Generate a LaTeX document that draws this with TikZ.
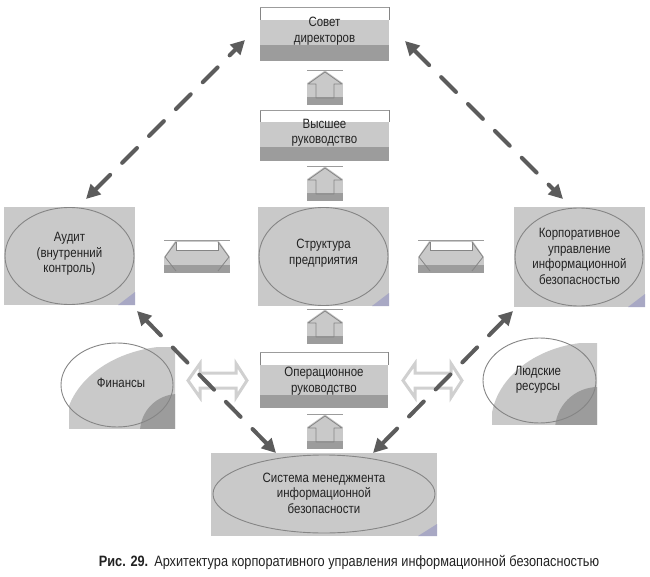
\documentclass[tikz,border=0pt]{standalone}
\usepackage{fontspec}
\setmainfont[FakeStretch=0.85]{Liberation Sans}
\usetikzlibrary{arrows.meta}
\definecolor{lg}{HTML}{C9C9C9}
\definecolor{dg}{HTML}{9C9C9C}
\definecolor{eg}{HTML}{858585}
\definecolor{ag}{HTML}{5C5C5C}
\definecolor{tx}{HTML}{222222}
\definecolor{og}{HTML}{D0D0D0}
\definecolor{pp}{HTML}{A8A8C4}
\tikzset{
  lbl/.style={text=tx, align=center, font=\fontsize{13.5}{15.5}\selectfont, inner sep=0pt},
  ell/.style={draw=eg, line width=0.9pt},
  dasharrow/.style={draw=ag, line width=4pt, line cap=round, dash pattern=on 21pt off 17pt,
     {Triangle[length=14pt,width=14pt]}-{Triangle[length=14pt,width=14pt]}},
  outarrow/.style={draw=og, line width=3pt, fill=white, line join=miter},
  pics/uparr/.style={code={
    \fill[lg] (0,1) rectangle (36,35);
    \fill[dg] (0,27) rectangle (36,35);
    \fill[white] (0,1) -- (17,1) -- (0,13) -- cycle;
    \fill[white] (19,1) -- (36,1) -- (36,13) -- cycle;
    \draw[eg, line width=0.8pt, line join=round] (18,2) -- (1,14) -- (9,14) -- (9,28) -- (27,28) -- (27,14) -- (35,14) -- cycle;
    \draw[dg, line width=1.5pt] (0,0.5) -- (36,0.5);
  }},
  pics/harr/.style={code={
    \fill[lg] (0,1) rectangle (66,33);
    \fill[dg] (0,25) rectangle (66,33);
    \fill[white] (0,1) -- (11,1) -- (0,17) -- cycle;
    \fill[white] (55,1) -- (66,1) -- (66,17) -- cycle;
    \fill[white] (12,2) rectangle (54,10);
    \draw[eg, line width=0.8pt, line join=round] (12,2) -- (1,17) -- (12,31);
    \draw[eg, line width=0.8pt, line join=round] (54,2) -- (65,17) -- (54,31);
    \draw[eg, line width=0.8pt] (12,2) -- (12,10) -- (54,10) -- (54,2);
    \draw[dg, line width=1.5pt] (0,0.5) -- (66,0.5);
  }},
}
\begin{document}
\begin{tikzpicture}[x=1pt,y=-1pt]
\useasboundingbox (0,0) rectangle (650,577);

% ---------- layered boxes ----------
% Совет директоров
\fill[white] (260,7) rectangle (389,20);
\fill[lg] (260,20) rectangle (389,45);
\fill[dg] (260,45) rectangle (389,61);
\draw[eg, line width=0.6pt] (260,20) -- (260,7.5) -- (389,7.5) -- (389,20);
\draw[dg, line width=1.5pt] (260,7.5) -- (389,7.5);
\node[lbl] (sovet) at (324.5,31) {Совет\\директоров};

% Высшее руководство
\fill[white] (260,110) rectangle (389,122);
\fill[lg] (260,122) rectangle (389,147);
\fill[dg] (260,147) rectangle (389,161);
\draw[eg, line width=0.6pt] (260,122) -- (260,110.5) -- (389,110.5) -- (389,122);
\draw[dg, line width=1.5pt] (260,110.5) -- (389,110.5);
\node[lbl] (vysh) at (324.5,133) {Высшее\\руководство};

% Операционное руководство
\fill[white] (260,352) rectangle (388,365);
\fill[lg] (260,365) rectangle (388,395);
\fill[dg] (260,395) rectangle (388,408);
\draw[eg, line width=0.6pt] (260,365) -- (260,352.5) -- (388,352.5) -- (388,365);
\draw[dg, line width=1.5pt] (260,352.5) -- (388,352.5);
\node[lbl] (oper) at (324,381) {Операционное\\руководство};

% ---------- up arrows ----------
\pic at (307,70) {uparr};
\pic at (307,166) {uparr};
\pic at (307,309) {uparr};
\pic at (307,414) {uparr};

% ---------- horizontal arrows ----------
\pic at (164,240) {harr};
\pic at (418,240) {harr};

% ---------- ellipse boxes ----------
% Аудит
\fill[lg] (4,207) rectangle (135,305);
\fill[pp] (135,292) -- (135,305) -- (118,305) -- cycle;
\draw[ell] (69.5,256) ellipse [x radius=64.5pt, y radius=48.5pt];
\node[lbl] (audit) at (69.5,254) {Аудит\\(внутренний\\контроль)};

% Структура предприятия
\fill[lg] (258,207) rectangle (389,306);
\fill[pp] (389,293) -- (389,306) -- (372,306) -- cycle;
\draw[ell] (323.5,256.5) ellipse [x radius=64.5pt, y radius=49pt];
\node[lbl] (struct) at (323.5,253) {Структура\\предприятия};

% Корпоративное управление
\fill[lg] (514,207) rectangle (645,307);
\fill[pp] (645,294) -- (645,307) -- (628,307) -- cycle;
\draw[ell] (579,257) ellipse [x radius=64pt, y radius=49pt];
\node[lbl] (korp) at (579.5,256.5) {Корпоративное\\управление\\информационной\\безопасностью};

% Система менеджмента
\fill[lg] (211,453) rectangle (437,536);
\fill[pp] (437,524) -- (437,536) -- (418,536) -- cycle;
\draw[ell] (324,494) ellipse [x radius=111pt, y radius=39pt];
\node[lbl] (sys) at (324,493) {Система менеджмента\\информационной\\безопасности};

% Финансы
\begin{scope}
  \clip (69,347) rectangle (175,428);
  \fill[white] (69,347) rectangle (175,428);
  \fill[lg] (175,428) ellipse [x radius=110pt, y radius=82pt];
  \fill[dg] (178,432) circle [radius=38pt];
\end{scope}
\draw[ell] (117,385) ellipse [x radius=56pt, y radius=42pt];
\node[lbl] (fin) at (121,383) {Финансы};

% Людские ресурсы
\begin{scope}
  \clip (492,343) rectangle (597,424);
  \fill[white] (492,343) rectangle (597,424);
  \fill[lg] (597,424) ellipse [x radius=106pt, y radius=82pt];
  \fill[dg] (598,430) circle [radius=43pt];
\end{scope}
\draw[ell] (539.5,380.5) ellipse [x radius=56.5pt, y radius=42.5pt];
\node[lbl] (hr) at (538,380) {Людские\\ресурсы};

% ---------- outlined double arrows ----------
\draw[outarrow] (188,380.5) -- (200,363.5) -- (200,373) -- (236,373) -- (236,363.5) -- (247,380.5)
   -- (236,397.5) -- (236,388) -- (200,388) -- (200,397.5) -- cycle;
\draw[outarrow] (403,380.5) -- (415,363.5) -- (415,373) -- (451,373) -- (451,363.5) -- (462,380.5)
   -- (451,397.5) -- (451,388) -- (415,388) -- (415,397.5) -- cycle;

% ---------- dashed arrows ----------
\coordinate (pSovL) at (245,40);
\coordinate (pAudT) at (86,199);
\coordinate (pSovR) at (405,41);
\coordinate (pKorT) at (563,199);
\coordinate (pAudB) at (137,311);
\coordinate (pSysL) at (276,453);
\coordinate (pKorB) at (513,311);
\coordinate (pSysR) at (373,453);
\draw[dasharrow] (pAudT) -- (pSovL);
\draw[dasharrow] (pSovR) -- (pKorT);
\draw[dasharrow] (pAudB) -- (pSysL);
\draw[dasharrow] (pKorB) -- (pSysR);

% ---------- caption ----------
\node[text=tx, inner sep=0pt, font=\fontsize{15}{17}\selectfont] (cap) at (349,562)
  {\textbf{Рис. 29.}\hspace{6pt}Архитектура корпоративного управления информационной безопасностью};
\end{tikzpicture}
\end{document}
